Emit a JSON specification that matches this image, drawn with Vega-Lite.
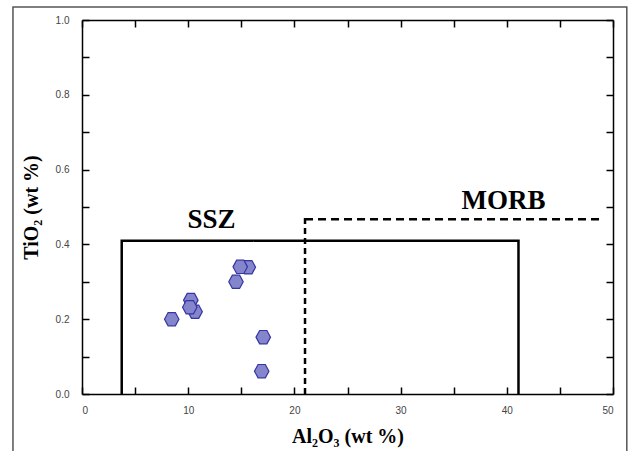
{
  "$schema": "https://vega.github.io/schema/vega-lite/v6.json",
  "width": 531,
  "height": 374,
  "autosize": {"type": "none"},
  "padding": {"left": 82, "top": 20, "right": 16, "bottom": 57},
  "background": "white",
  "config": {
    "view": {"stroke": null},
    "axis": {
      "grid": false,
      "domainColor": "black",
      "domainWidth": 1.5,
      "tickColor": "black",
      "tickWidth": 1.5,
      "tickSize": -7,
      "labelFont": "Liberation Sans",
      "labelFontSize": 10,
      "labelColor": "#444",
      "titleFont": "Liberation Serif",
      "titleFontSize": 20,
      "titleFontWeight": "bold",
      "titleColor": "black"
    }
  },
  "datasets": {
    "fields": [
      {"segment": "SSZ", "i": 1, "al2o3": 3.74, "tio2": 0.0},
      {"segment": "SSZ", "i": 2, "al2o3": 3.74, "tio2": 0.41},
      {"segment": "SSZ", "i": 3, "al2o3": 41.1, "tio2": 0.41},
      {"segment": "SSZ", "i": 4, "al2o3": 41.1, "tio2": 0.0},
      {"segment": "MORB vertical", "i": 1, "al2o3": 21.0, "tio2": 0.0},
      {"segment": "MORB vertical", "i": 2, "al2o3": 21.0, "tio2": 0.475},
      {"segment": "MORB horizontal", "i": 1, "al2o3": 21.0, "tio2": 0.467},
      {"segment": "MORB horizontal", "i": 2, "al2o3": 49.1, "tio2": 0.467}
    ],
    "samples": [
      {"al2o3": 8.45, "tio2": 0.20},
      {"al2o3": 10.25, "tio2": 0.251},
      {"al2o3": 10.65, "tio2": 0.22},
      {"al2o3": 10.15, "tio2": 0.232},
      {"al2o3": 14.5, "tio2": 0.30},
      {"al2o3": 15.66, "tio2": 0.339},
      {"al2o3": 14.9, "tio2": 0.340},
      {"al2o3": 17.07, "tio2": 0.152},
      {"al2o3": 16.92, "tio2": 0.061}
    ],
    "labels": [
      {"name": "SSZ", "al2o3": 12.2, "tio2": 0.465},
      {"name": "MORB", "al2o3": 39.7, "tio2": 0.515}
    ]
  },
  "resolve": {"axis": {"x": "independent", "y": "independent"}},
  "layer": [
    {
      "data": {"values": [{}]},
      "mark": {"type": "rect", "fill": null, "stroke": "#555", "strokeWidth": 1.5, "clip": false},
      "encoding": {
        "x": {"datum": -6.5, "type": "quantitative", "scale": {"domain": [0, 50], "nice": false}, "axis": null},
        "x2": {"datum": 51.3},
        "y": {"datum": 1.035, "type": "quantitative", "scale": {"domain": [0, 1], "nice": false}, "axis": null},
        "y2": {"datum": -0.2}
      }
    },
    {
      "data": {"name": "fields"},
      "mark": {"type": "line", "color": "black", "strokeWidth": 2.5, "strokeCap": "butt"},
      "encoding": {
        "x": {
          "field": "al2o3", "type": "quantitative",
          "scale": {"domain": [0, 50], "nice": false},
          "axis": {
            "orient": "bottom",
            "values": [0, 5, 10, 15, 20, 25, 30, 35, 40, 45, 50],
            "labelExpr": "datum.value % 10 === 0 ? datum.label : ''",
            "labelPadding": 18,
            "title": "Al₂O₃ (wt %)",
            "titlePadding": 11
          }
        },
        "y": {
          "field": "tio2", "type": "quantitative",
          "scale": {"domain": [0, 1], "nice": false},
          "axis": {
            "orient": "left",
            "values": [0, 0.1, 0.2, 0.3, 0.4, 0.5, 0.6, 0.7, 0.8, 0.9, 1.0],
            "labelExpr": "round(datum.value * 10) % 2 === 0 ? format(datum.value, '.1f') : ''",
            "labelPadding": 20,
            "title": "TiO₂ (wt %)",
            "titlePadding": 14
          }
        },
        "detail": {"field": "segment"},
        "order": {"field": "i"},
        "strokeDash": {
          "field": "segment", "type": "nominal",
          "scale": {"domain": ["SSZ", "MORB vertical", "MORB horizontal"], "range": [[1, 0], [6, 4], [8, 5]]},
          "legend": null
        }
      }
    },
    {
      "data": {"name": "samples"},
      "mark": {
        "type": "point",
        "shape": "M-1,0L-0.5,-0.92L0.5,-0.92L1,0L0.5,0.92L-0.5,0.92Z",
        "filled": true,
        "fill": "#8585cc",
        "stroke": "#3535a5",
        "strokeWidth": 1.2,
        "opacity": 1,
        "size": 210
      },
      "encoding": {
        "x": {
          "field": "al2o3", "type": "quantitative",
          "scale": {"domain": [0, 50], "nice": false},
          "axis": {"orient": "top", "values": [0, 5, 10, 15, 20, 25, 30, 35, 40, 45, 50], "labels": false, "title": null}
        },
        "y": {
          "field": "tio2", "type": "quantitative",
          "scale": {"domain": [0, 1], "nice": false},
          "axis": {"orient": "right", "values": [0, 0.1, 0.2, 0.3, 0.4, 0.5, 0.6, 0.7, 0.8, 0.9, 1.0], "labels": false, "title": null}
        }
      }
    },
    {
      "data": {"name": "labels"},
      "mark": {"type": "text", "font": "Liberation Serif", "fontWeight": "bold", "fontSize": 27, "color": "black", "baseline": "middle", "align": "center"},
      "encoding": {
        "x": {"field": "al2o3", "type": "quantitative", "scale": {"domain": [0, 50], "nice": false}, "axis": null},
        "y": {"field": "tio2", "type": "quantitative", "scale": {"domain": [0, 1], "nice": false}, "axis": null},
        "text": {"field": "name"}
      }
    }
  ]
}
